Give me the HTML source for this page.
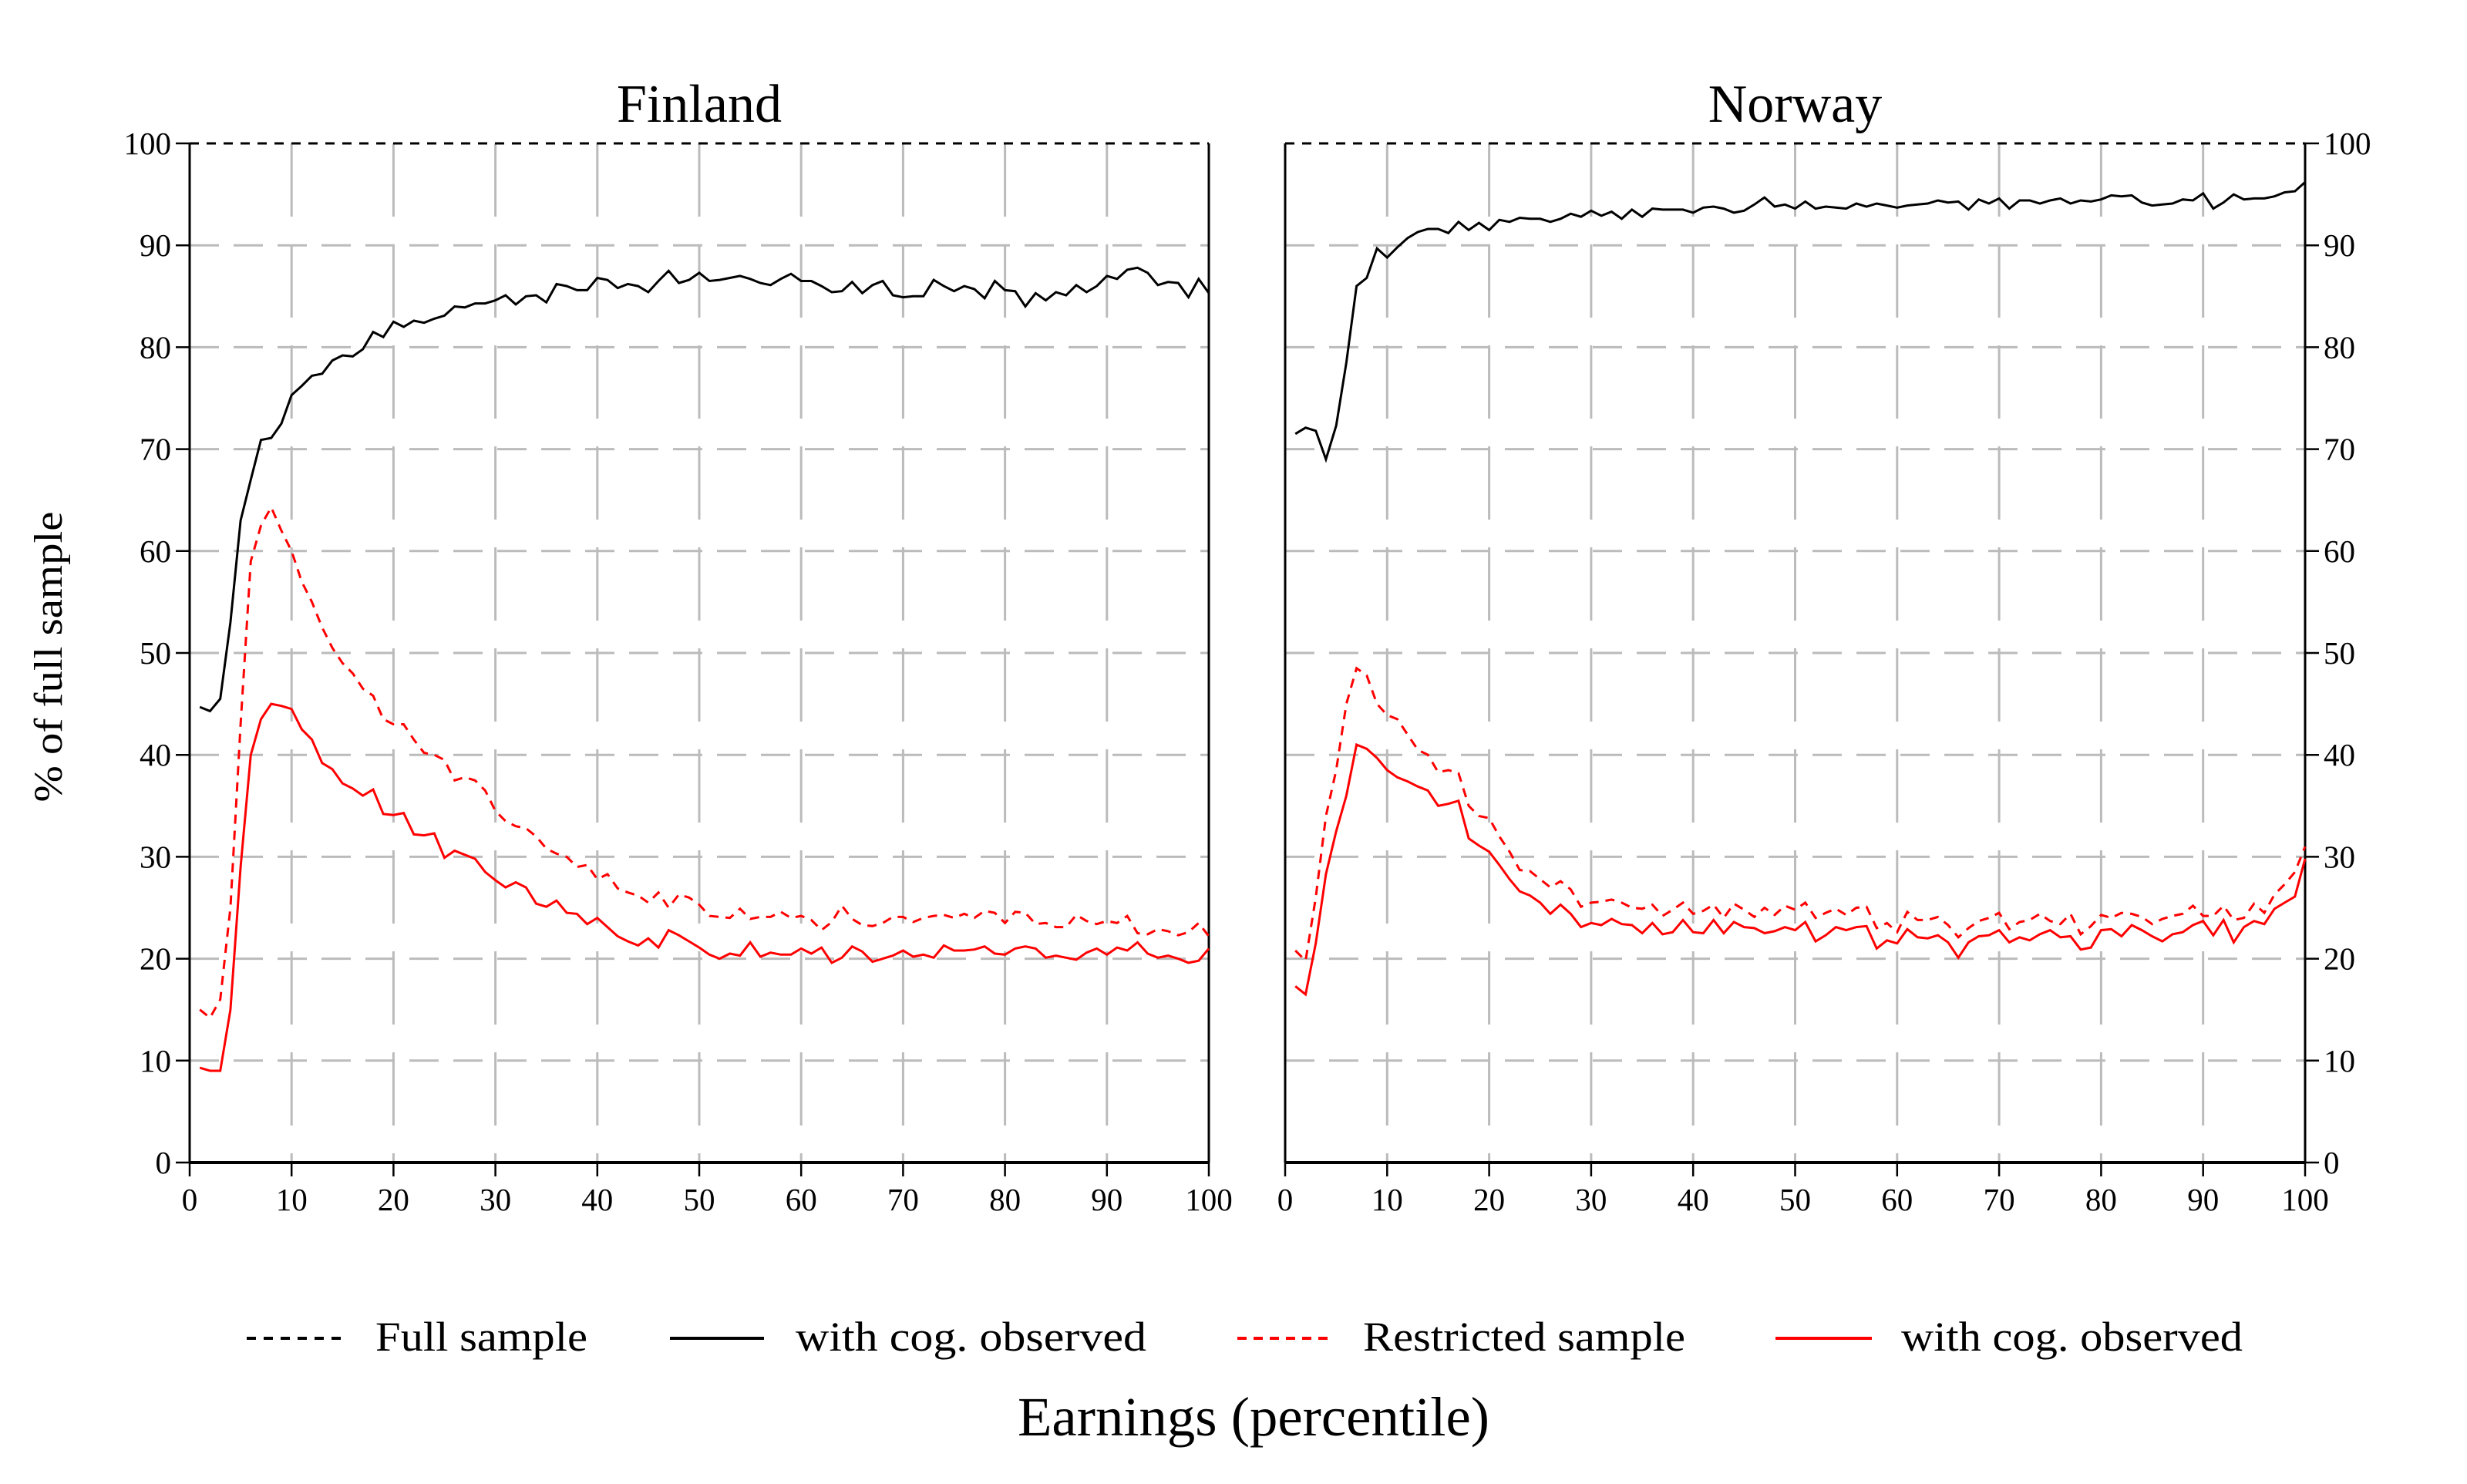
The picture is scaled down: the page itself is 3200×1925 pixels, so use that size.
<!DOCTYPE html>
<html><head><meta charset="utf-8"><style>
html,body{margin:0;padding:0;background:#fff;}
svg text{font-family:"Liberation Serif","DejaVu Serif",serif;fill:#000;}
</style></head><body>
<svg id="c" width="3200" height="1920" viewBox="0 0 3200 1920" xmlns="http://www.w3.org/2000/svg">
<rect width="3200" height="1920" fill="#fff"/>
</svg>
<script>
const xTicks=[0,10,20,30,40,50,60,70,80,90,100];
const yTicks=[0,10,20,30,40,50,60,70,80,90,100];
const fullSample=100;
const finBlack=[44.7,44.3,45.5,53,63,67,70.9,71.1,72.5,75.3,76.2,77.2,77.4,78.7,79.2,79.1,79.8,81.5,81,82.5,82,82.6,82.4,82.8,83.1,84,83.9,84.3,84.3,84.6,85.1,84.2,85,85.1,84.4,86.2,86,85.6,85.6,86.8,86.6,85.8,86.2,86,85.4,86.5,87.5,86.3,86.6,87.3,86.5,86.6,86.8,87,86.7,86.3,86.1,86.7,87.2,86.5,86.5,86,85.4,85.5,86.4,85.3,86.1,86.5,85.1,84.9,85,85,86.6,86,85.5,86,85.7,84.8,86.5,85.6,85.5,84,85.3,84.6,85.4,85.1,86.1,85.4,86,87,86.7,87.6,87.8,87.3,86.1,86.4,86.3,84.9,86.7,85.3];
const finRedDash=[15,14.2,16,25,43,59,62.5,64.3,62,60,57,55,52.5,50.5,49,48,46.5,45.8,43.5,43,43,41.5,40.2,40,39.5,37.5,37.8,37.5,36.5,34.5,33.5,33,32.8,32,30.8,30.3,30,29,29.2,27.8,28.3,26.9,26.5,26.2,25.5,26.5,25,26.3,26,25.3,24.2,24.1,24,24.9,23.9,24.1,24.1,24.6,24,24.2,23.8,22.8,23.6,25.2,23.9,23.3,23.2,23.5,24.1,24.1,23.6,24,24.2,24.3,24,24.4,24,24.7,24.5,23.5,24.6,24.5,23.4,23.5,23.1,23.1,24.3,23.7,23.4,23.7,23.5,24.2,22.5,22.4,22.9,22.7,22.3,22.6,23.5,22.2];
const finRed=[9.3,9,9,15,29,40,43.5,45,44.8,44.5,42.5,41.5,39.2,38.6,37.2,36.7,36,36.6,34.2,34.1,34.3,32.2,32.1,32.3,29.9,30.6,30.2,29.8,28.5,27.7,27,27.5,27,25.4,25.1,25.7,24.5,24.4,23.4,24,23.1,22.2,21.7,21.3,22,21.1,22.8,22.3,21.7,21.1,20.4,20,20.5,20.3,21.6,20.2,20.6,20.4,20.4,21,20.5,21.1,19.6,20.1,21.2,20.7,19.7,20,20.3,20.8,20.2,20.4,20.1,21.3,20.8,20.8,20.9,21.2,20.5,20.4,21,21.2,21,20.1,20.3,20.1,19.9,20.6,21,20.4,21.1,20.8,21.6,20.5,20.1,20.3,20,19.6,19.8,21];
const norBlack=[71.5,72.1,71.8,69,72.3,78.5,86,86.8,89.7,88.8,89.8,90.7,91.3,91.6,91.6,91.2,92.3,91.5,92.2,91.5,92.5,92.3,92.7,92.6,92.6,92.3,92.6,93.1,92.8,93.4,92.9,93.3,92.6,93.5,92.8,93.6,93.5,93.5,93.5,93.2,93.7,93.8,93.6,93.2,93.4,94,94.7,93.8,94,93.6,94.3,93.6,93.8,93.7,93.6,94.1,93.8,94.1,93.9,93.7,93.9,94,94.1,94.4,94.2,94.3,93.5,94.5,94.1,94.6,93.6,94.4,94.4,94.1,94.4,94.6,94.1,94.4,94.3,94.5,94.9,94.8,94.9,94.2,93.9,94,94.1,94.5,94.4,95.1,93.6,94.2,95,94.5,94.6,94.6,94.8,95.2,95.3,96.2];
const norRedDash=[20.8,19.8,26,34,38.5,45,48.5,47.8,45,43.9,43.5,42,40.5,40,38.3,38.5,38.2,35,34,33.8,32,30.5,28.7,28.6,27.8,27,27.6,26.8,25.1,25.5,25.6,25.8,25.5,25,24.9,25.3,24.2,24.8,25.5,24.4,24.7,25.3,24,25.4,24.8,24.1,25,24.3,25.2,24.8,25.5,24,24.5,24.9,24.3,25,25.1,23,23.5,22.6,24.6,23.8,23.8,24.1,23.3,22.1,23,23.7,24,24.5,22.9,23.6,23.8,24.4,23.7,23.4,24.4,22.4,23.2,24.3,24,24.5,24.4,24.1,23.4,23.9,24.2,24.4,25.2,24.2,24.2,25.2,23.8,24,25.4,24.5,26.3,27.3,28.5,31];
const norRed=[17.3,16.5,21.5,28.3,32.5,36,41,40.6,39.7,38.5,37.8,37.4,36.9,36.5,35,35.2,35.5,31.8,31.1,30.5,29.2,27.8,26.6,26.2,25.5,24.4,25.3,24.4,23.1,23.5,23.3,23.9,23.4,23.3,22.5,23.5,22.4,22.6,23.8,22.6,22.5,23.8,22.5,23.6,23.1,23,22.5,22.7,23.1,22.8,23.6,21.7,22.3,23.1,22.8,23.1,23.2,21,21.8,21.5,22.9,22.1,22,22.3,21.6,20.1,21.6,22.2,22.3,22.8,21.6,22.1,21.8,22.4,22.8,22.1,22.2,20.9,21.1,22.8,22.9,22.2,23.3,22.8,22.2,21.7,22.4,22.6,23.3,23.7,22.3,23.8,21.6,23.1,23.7,23.4,24.9,25.5,26.1,29.8];

const svg=document.getElementById('c');
const NS='http://www.w3.org/2000/svg';
function mk(tag,attrs,parent){const e=document.createElementNS(NS,tag);for(const k in attrs)e.setAttribute(k,attrs[k]);(parent||svg).appendChild(e);return e;}
const Y0=1508,Y100=186;
function yS(v){return Y0+(Y100-Y0)*v/100;}
const panels=[
 {name:'finland',title:'Finland',x0:246,x1:1568,side:'left',s:[finBlack,finRedDash,finRed]},
 {name:'norway',title:'Norway',x0:1667,x1:2990,side:'right',s:[norBlack,norRedDash,norRed]}
];
panels.forEach(p=>{
 const g=mk('g',{});
 
 
 const xS=v=>p.x0+(p.x1-p.x0)*v/100;
 xTicks.forEach(t=>{if(t===0||t===100)return;const l=mk('line',{x1:xS(t),x2:xS(t),y1:Y100,y2:Y0,stroke:'#bbb','stroke-width':3,'stroke-dasharray':'95 36'},g);});
 yTicks.forEach(t=>{if(t===0||t===100)return;const l=mk('line',{x1:p.x0,x2:p.x1,y1:yS(t),y2:yS(t),stroke:'#bbb','stroke-width':3,'stroke-dasharray':'38 19'},g);});
 const tt=mk('text',{x:(p.x0+p.x1)/2,y:158,'font-size':70,'text-anchor':'middle'},g);tt.textContent=p.title;
 
 mk('line',{x1:p.x0,x2:p.x0,y1:Y100,y2:Y0,stroke:'#000','stroke-width':3},g);
 mk('line',{x1:p.x1,x2:p.x1,y1:Y100,y2:Y0,stroke:'#000','stroke-width':3},g);
 mk('line',{x1:p.x0,x2:p.x1,y1:Y0,y2:Y0,stroke:'#000','stroke-width':4},g);
 xTicks.forEach(t=>{mk('line',{x1:xS(t),x2:xS(t),y1:Y0,y2:Y0+18,stroke:'#000','stroke-width':2.5},g);
  const tx=mk('text',{x:xS(t),y:Y0+62,'font-size':41,'text-anchor':'middle'},g);tx.textContent=t;
  });
 yTicks.forEach(t=>{const ax=p.side==='left'?p.x0:p.x1;const d=p.side==='left'?-18:18;
  mk('line',{x1:ax,x2:ax+d,y1:yS(t),y2:yS(t),stroke:'#000','stroke-width':2.5},g);
  const tx=mk('text',{x:p.side==='left'?ax-24:ax+24,y:yS(t)+14,'font-size':41,'text-anchor':p.side==='left'?'end':'start'},g);tx.textContent=t;
  });
 const fl=mk('line',{x1:p.x0,x2:p.x1,y1:yS(fullSample),y2:yS(fullSample),stroke:'#000','stroke-width':3,'stroke-dasharray':'12 10'},g);
 
 const styles=[{c:'#000',d:'',n:'cog-observed-line'},{c:'#f00',d:'12 9',n:'restricted-sample-line'},{c:'#f00',d:'',n:'restricted-cog-observed-line'}];
 p.s.forEach((arr,i)=>{
  const pts=arr.map((v,j)=>xS(j+1).toFixed(1)+','+yS(v).toFixed(1)).join(' ');
  const pl=mk('polyline',{points:pts,fill:'none',stroke:styles[i].c,'stroke-width':3,'stroke-linejoin':'miter','stroke-dasharray':styles[i].d||'none'},g);
  
  
 });
});
const yl=mk('text',{x:0,y:0,'font-size':52,'text-anchor':'middle',textLength:377,lengthAdjust:'spacingAndGlyphs',transform:'translate(80,852) rotate(-90)'});
yl.textContent='% of full sample';

const xl=mk('text',{x:1626,y:1862,'font-size':72,'text-anchor':'middle',textLength:612,lengthAdjust:'spacingAndGlyphs'});
xl.textContent='Earnings (percentile)';

const leg=[{x1:320,x2:447,c:'#000',d:'12 10',t:'Full sample',tx:487,w:275},{x1:869,x2:991,c:'#000',d:'',t:'with cog.  observed',tx:1032,w:455},{x1:1605,x2:1730,c:'#f00',d:'12 9',t:'Restricted sample',tx:1768,w:418},{x1:2303,x2:2428,c:'#f00',d:'',t:'with cog. observed',tx:2466,w:443}];
const lg=mk('g',{});

leg.forEach(L=>{
 const e=mk('g',{},lg);
 
 mk('line',{x1:L.x1,x2:L.x2,y1:1736,y2:1736,stroke:L.c,'stroke-width':4,'stroke-dasharray':L.d||'none'},e);
 const t=mk('text',{x:L.tx,y:1752,'font-size':54,textLength:L.w,lengthAdjust:'spacingAndGlyphs'},e);t.textContent=L.t;
});
</script>
</body></html>
